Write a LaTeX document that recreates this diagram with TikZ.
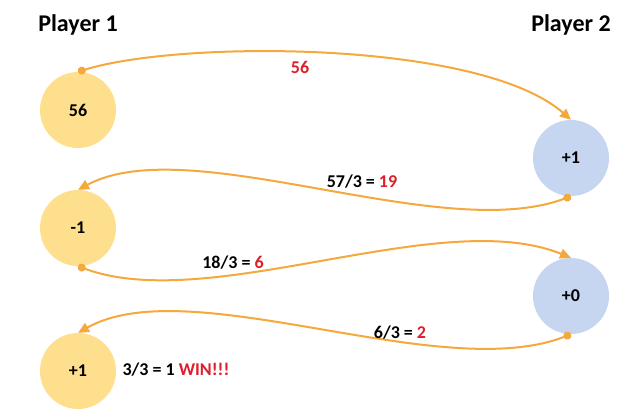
\documentclass[tikz,border=0pt]{standalone}
\usepackage{fontspec}
\setmainfont{Carlito}
\usetikzlibrary{arrows.meta}
\definecolor{coinyellow}{HTML}{FDDF8E}
\definecolor{coinblue}{HTML}{C6D6F0}
\definecolor{flowline}{HTML}{F5A83C}
\definecolor{winred}{HTML}{DD1F2B}

\begin{document}
\begin{tikzpicture}[x=1pt,y=-1pt,
    font=\bfseries\fontsize{18}{20}\selectfont,
    turn/.style={circle,minimum size=76pt,inner sep=0pt},
    one/.style={turn,fill=coinyellow},
    two/.style={turn,fill=coinblue},
    flow/.style={draw=flowline,line width=2pt,{Circle[length=8pt]}-{Triangle[length=11pt,width=10pt]}},
    player/.style={font=\bfseries\fontsize{24}{27}\selectfont}]
  \useasboundingbox (0,0) rectangle (643,416);

  % players
  \node[player] (t1) at (78,25) {Player 1};
  \node[player] (t2) at (571,25) {Player 2};

  % turns
  \node[one] (a1) at (78,110) {56};
  \node[two] (b1) at (571,158) {+1};
  \node[one] (a2) at (78,228) {-1};
  \node[two] (b2) at (571,296) {+0};
  \node[one] (a3) at (78,371) {+1};

  % moves
  \draw[flow] (a1.north) .. controls (180,40) and (480,40) .. (b1.north);
  \draw[flow] (b1.south) .. controls (440,245) and (190,130) .. (a2.north);
  \draw[flow] (a2.south) .. controls (210,315) and (440,205) .. (b2.north);
  \draw[flow] (b2.south) .. controls (440,385) and (190,270) .. (a3.north);

  % labels
  \node[text=winred] (l1) at (300,67) {56};
  \node (l2) at (362,182) {57/3 = \textcolor{winred}{19}};
  \node (l3) at (233,263) {18/3 = \textcolor{winred}{6}};
  \node (l4) at (400,333) {6/3 = \textcolor{winred}{2}};
  \node[anchor=west] (l5) at (119,370) {3/3 = 1 \textcolor{winred}{WIN!!!}};
\end{tikzpicture}
\end{document}
